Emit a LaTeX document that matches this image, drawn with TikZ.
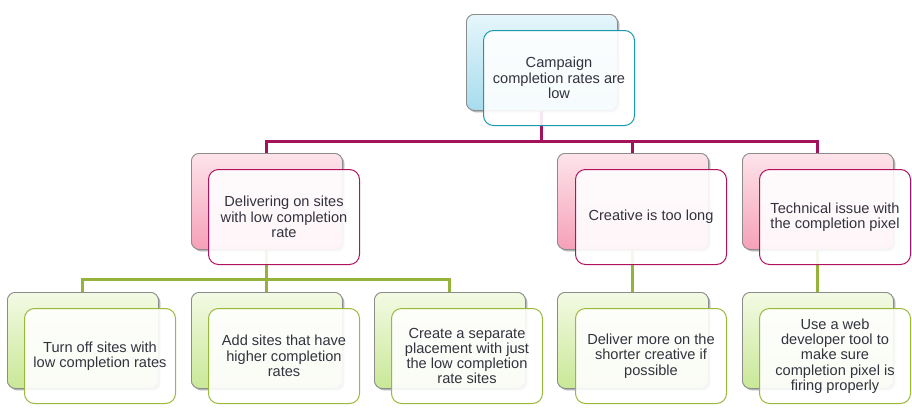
\documentclass[tikz,border=0pt]{standalone}
\usepackage{fontspec}
\setmainfont{Liberation Sans}
\usetikzlibrary{shadows}
\definecolor{txt}{HTML}{33333F}
\definecolor{cyT}{HTML}{E6F6FB}
\definecolor{cyB}{HTML}{A6DCEE}
\definecolor{cyE}{HTML}{1A9AAA}
\definecolor{pkT}{HTML}{FDE4EA}
\definecolor{pkB}{HTML}{F5A0B9}
\definecolor{pkE}{HTML}{B0125E}
\definecolor{grT}{HTML}{F3FAE4}
\definecolor{grB}{HTML}{C9E897}
\definecolor{grE}{HTML}{9AB83A}
\definecolor{bkE}{HTML}{8C8C8C}
\definecolor{mline}{HTML}{A3135C}
\definecolor{gline}{HTML}{95B33A}
\tikzset{
  backbox/.style={rectangle, rounded corners=8pt, minimum width=151pt, minimum height=96pt,
    anchor=north west, draw=bkE, line width=0.8pt,
    drop shadow={shadow xshift=2pt, shadow yshift=-2pt, opacity=0.35}},
  cyback/.style={backbox, top color=cyT, bottom color=cyB},
  pkback/.style={backbox, top color=pkT, bottom color=pkB},
  grback/.style={backbox, top color=grT, bottom color=grB},
  frontbox/.style={rectangle, rounded corners=10pt, minimum width=151pt, minimum height=95pt,
    anchor=north west, fill=white, fill opacity=0.9, text opacity=1, line width=1pt,
    text=txt, align=center, font=\fontsize{14.6}{15.3}\selectfont},
  cyfront/.style={frontbox, draw=cyE},
  pkfront/.style={frontbox, draw=pkE},
  grfront/.style={frontbox, draw=grE},
  mconn/.style={draw=mline, line width=3pt},
  gconn/.style={draw=gline, line width=3pt}
}
\begin{document}
\begin{tikzpicture}[x=1pt,y=-1pt]
\useasboundingbox (0,0) rectangle (912,418);
\fill[white] (0,0) rectangle (912,418);
% back boxes
\node[cyback] (b0) at (466,14) {};
\node[pkback] (b1) at (191,153) {};
\node[pkback] (b2) at (557,153) {};
\node[pkback] (b3) at (742,153) {};
\node[grback] (c1) at (7,292) {};
\node[grback] (c2) at (191,292) {};
\node[grback] (c3) at (374,292) {};
\node[grback] (c4) at (557,292) {};
\node[grback] (c5) at (742,292) {};
% connectors
\draw[mconn] (b0.south) -- ++(0,31) -| (b1.north);
\draw[mconn] (b0.south) -- ++(0,31) -| (b2.north);
\draw[mconn] (b0.south) -- ++(0,31) -| (b3.north);
\draw[gconn] (b1.south) -- ++(0,30) -| (c1.north);
\draw[gconn] (b1.south) -- ++(0,30) -| (c2.north);
\draw[gconn] (b1.south) -- ++(0,30) -| (c3.north);
\draw[gconn] (b2.south) -- (c4.north);
\draw[gconn] (b3.south) -- (c5.north);
% redraw back boxes over the connector ends
\node[cyback] at (466,14) {};
\node[pkback] at (191,153) {};
\node[pkback] at (557,153) {};
\node[pkback] at (742,153) {};
\node[grback] at (7,292) {};
\node[grback] at (191,292) {};
\node[grback] at (374,292) {};
\node[grback] at (557,292) {};
\node[grback] at (742,292) {};
% front boxes
\node[cyfront] (f0) at (483,30) {Campaign\\completion rates are\\low};
\node[pkfront] (f1) at (208,169) {Delivering on sites\\with low completion\\rate};
\node[pkfront] (f2) at (575,169) {Creative is too long};
\node[pkfront] (f3) at (759,169) {Technical issue with\\the completion pixel};
\node[grfront] (g1) at (24,308) {Turn off sites with\\low completion rates};
\node[grfront] (g2) at (208,308) {Add sites that have\\higher completion\\rates};
\node[grfront] (g3) at (391,308) {Create a separate\\placement with just\\the low completion\\rate sites};
\node[grfront] (g4) at (575,308) {Deliver more on the\\shorter creative if\\possible};
\node[grfront] (g5) at (759,308) {Use a web\\developer tool to\\make sure\\completion pixel is\\firing properly};
\end{tikzpicture}
\end{document}
